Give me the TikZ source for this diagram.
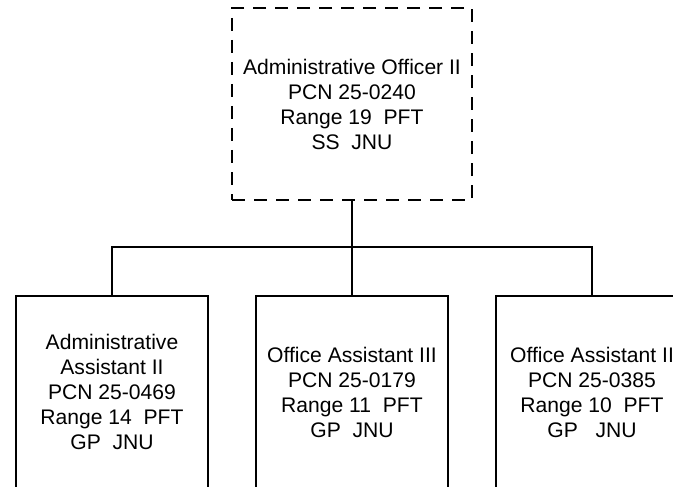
\documentclass[tikz,border=0pt]{standalone}
\usepackage{fontspec}
\setmainfont{Liberation Sans}
\begin{document}
\begin{tikzpicture}[x=1pt,y=-1pt,
  box/.style={draw=black, line width=1.2pt, rectangle, inner sep=0pt, outer sep=0pt,
    align=center, font=\fontsize{21.1}{25}\selectfont, text=black},
  headbox/.style={box, dash pattern=on 13pt off 9pt, minimum width=240pt, minimum height=192pt},
  staffbox/.style={box, minimum width=192pt, minimum height=192pt},
  link/.style={draw=black, line width=1.2pt}]
\useasboundingbox (0,0) rectangle (673,487);
\clip (0,0) rectangle (673,487);
\fill[white] (0,0) rectangle (673,487);
\node[headbox] (ao) at (352,104) {Administrative Officer II\\PCN 25-0240\\Range 19\ \ PFT\\SS\ \ JNU};
\node[staffbox] (aa) at (112,392) {Administrative\\Assistant II\\PCN 25-0469\\Range 14\ \ PFT\\GP\ \ JNU};
\node[staffbox] (oa) at (352,392) {Office Assistant III\\PCN 25-0179\\Range 11\ \ PFT\\GP\ \ JNU};
\node[staffbox] (ob) at (592,392) {Office Assistant II\\PCN 25-0385\\Range 10\ \ PFT\\GP\ \ \ JNU};
\coordinate (bus) at (352,247);
\path[link] (ao.south) -- (bus);
\path[link] (aa.north) |- (bus) -| (ob.north);
\path[link] (oa.north) -- (bus);
\end{tikzpicture}
\end{document}
